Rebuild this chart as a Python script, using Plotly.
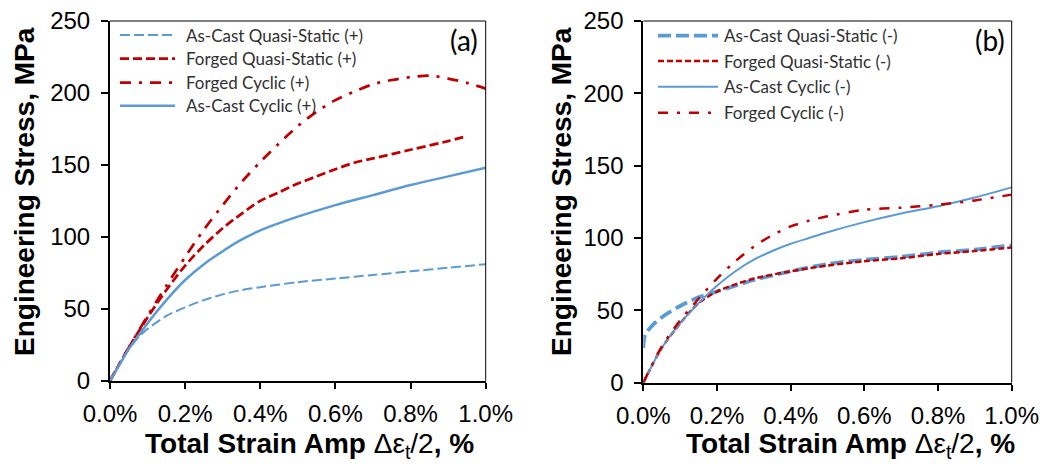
import plotly.graph_objects as go

# ---- data: strain amplitude (%) vs engineering stress (MPa) ----
# (a) tension (+)
ac_qs_pos_x = [0, 0.025, 0.05, 0.075, 0.1, 0.15, 0.2, 0.25, 0.3, 0.35, 0.4, 0.5, 0.6, 0.7, 0.8, 0.9, 1.0]
ac_qs_pos_y = [0, 12, 22, 30, 36, 45, 51, 56, 60, 63, 65, 68.5, 71, 73.5, 76, 78.5, 81]

fg_qs_pos_x = [0, 0.05, 0.1, 0.15, 0.2, 0.25, 0.3, 0.35, 0.4, 0.45, 0.5, 0.55, 0.6, 0.65, 0.7, 0.8, 0.9, 0.95]
fg_qs_pos_y = [0, 23, 44, 63, 80, 94, 106, 116, 125, 131, 137, 142, 147, 151.5, 154.5, 160.5, 166.5, 170]

fg_cy_pos_x = [0, 0.05, 0.1, 0.15, 0.2, 0.25, 0.3, 0.35, 0.4, 0.45, 0.5, 0.55, 0.6, 0.65, 0.7,
               0.75, 0.8, 0.85, 0.9, 0.95, 1.0]
fg_cy_pos_y = [0, 23, 45, 66, 86, 105, 122, 138, 152, 165, 177, 187, 195, 201, 206,
               209, 211, 212, 210, 207, 203]

ac_cy_pos_x = [0, 0.025, 0.05, 0.075, 0.1, 0.15, 0.2, 0.25, 0.3, 0.35, 0.4, 0.45, 0.5, 0.6, 0.7, 0.8, 0.9, 1.0]
ac_cy_pos_y = [0, 11, 22, 31, 40, 56, 70, 81, 90, 98, 104.5, 109.5, 114, 122, 129, 136, 142, 148]

# (b) compression (-)
ac_qs_neg_x = [0, 0.005, 0.03, 0.06, 0.1, 0.15, 0.2, 0.25, 0.3, 0.4, 0.5, 0.6, 0.7, 0.8, 0.9, 1.0]
ac_qs_neg_y = [24, 33, 41, 47, 53, 59, 63, 67, 71, 77, 82, 85, 87, 90, 92, 95]

fg_qs_neg_x = [0, 0.05, 0.1, 0.15, 0.2, 0.25, 0.3, 0.4, 0.5, 0.6, 0.7, 0.8, 0.9, 1.0]
fg_qs_neg_y = [0, 24, 41, 55, 63, 68, 72, 77, 81, 84, 86, 89, 91, 93.5]

ac_cy_neg_x = [0, 0.05, 0.1, 0.15, 0.2, 0.25, 0.3, 0.35, 0.4, 0.45, 0.5, 0.6, 0.7, 0.8, 0.9, 1.0]
ac_cy_neg_y = [0, 24, 41, 55, 67, 77, 85, 91, 96, 100, 104, 111, 117, 122, 128, 135]

fg_cy_neg_x = [0, 0.05, 0.1, 0.15, 0.2, 0.25, 0.3, 0.35, 0.4, 0.45, 0.5, 0.6, 0.7, 0.8, 0.9, 1.0]
fg_cy_neg_y = [0, 25, 43, 58, 72, 84, 94, 102, 108, 112, 115, 119.5, 121, 123, 126, 130]

x_tick_vals = [0, 0.2, 0.4, 0.6, 0.8, 1.0]
x_tick_text = ["0.0%", "0.2%", "0.4%", "0.6%", "0.8%", "1.0%"]
y_tick_vals = [0, 50, 100, 150, 200, 250]

names_a = ["As-Cast Quasi-Static (+)", "Forged Quasi-Static (+)", "Forged Cyclic (+)", "As-Cast Cyclic (+)"]
names_b = ["As-Cast Quasi-Static (-)", "Forged Quasi-Static (-)", "As-Cast Cyclic (-)", "Forged Cyclic (-)"]

BLUE = "#5B9BD5"
RED = "#C00000"

W, H = 1047, 464


def px(x):
    return x / W


def py(y):
    return 1 - y / H


# line styles for each series (colour, width, dash)
styles_a = [
    (BLUE, 2, "10px,4px"),
    (RED, 2.75, "9px,4px"),
    (RED, 2.75, "11px,8px,3px,8px"),
    (BLUE, 2.5, "solid"),
]
styles_b = [
    (BLUE, 3.75, "13px,5px"),
    (RED, 2.5, "6px,3px"),
    (BLUE, 2, "solid"),
    (RED, 2.5, "10px,9px,3px,9px"),
]

series_a = [(ac_qs_pos_x, ac_qs_pos_y), (fg_qs_pos_x, fg_qs_pos_y),
            (fg_cy_pos_x, fg_cy_pos_y), (ac_cy_pos_x, ac_cy_pos_y)]
series_b = [(ac_qs_neg_x, ac_qs_neg_y), (fg_qs_neg_x, fg_qs_neg_y),
            (ac_cy_neg_x, ac_cy_neg_y), (fg_cy_neg_x, fg_cy_neg_y)]

fig = go.Figure()

for (xs, ys), name, (c, w, d) in zip(series_a, names_a, styles_a):
    fig.add_trace(go.Scatter(x=xs, y=ys, name=name, mode="lines", xaxis="x", yaxis="y",
                             line=dict(color=c, width=w, dash=d, shape="spline", smoothing=0.8),
                             showlegend=False))
for (xs, ys), name, (c, w, d) in zip(series_b, names_b, styles_b):
    fig.add_trace(go.Scatter(x=xs, y=ys, name=name, mode="lines", xaxis="x2", yaxis="y2",
                             line=dict(color=c, width=w, dash=d, shape="spline", smoothing=0.8),
                             showlegend=False))

# plot-area geometry in pixels
A = dict(l=110, r=485.7, t=21, b=380.7)
B = dict(l=643.3, r=1011.7, t=21, b=382.7)

tick_font = dict(family="Liberation Sans, Arial, sans-serif", size=24, color="#000000")
common_x = dict(range=[0, 1.0], tickvals=x_tick_vals, ticktext=x_tick_text, showgrid=False,
                zeroline=False, showline=True, linecolor="black", linewidth=2,
                ticks="outside", ticklen=6, tickwidth=2, tickcolor="black",
                tickfont=tick_font, ticklabelstandoff=4, fixedrange=True, automargin=False)
common_y = dict(range=[0, 250], tickvals=y_tick_vals, showgrid=False,
                zeroline=False, showline=True, linecolor="black", linewidth=2,
                ticks="outside", ticklen=7, tickwidth=2, tickcolor="black",
                tickfont=tick_font, ticklabelstandoff=6, fixedrange=True, automargin=False)

fig.update_layout(
    template="none",
    width=W, height=H,
    margin=dict(l=0, r=0, t=0, b=0, autoexpand=False),
    paper_bgcolor="white", plot_bgcolor="white",
    xaxis=dict(domain=[px(A["l"]), px(A["r"])], anchor="y", **common_x),
    yaxis=dict(domain=[py(A["b"]), py(A["t"])], anchor="x", **common_y),
    xaxis2=dict(domain=[px(B["l"]), px(B["r"])], anchor="y2", **common_x),
    yaxis2=dict(domain=[py(B["b"]), py(B["t"])], anchor="x2", **common_y),
)

shapes = []
annotations = []

# thin top and right frame lines
for P in (A, B):
    shapes.append(dict(type="line", xref="paper", yref="paper", x0=px(P["l"]), x1=px(P["r"]),
                       y0=py(P["t"]), y1=py(P["t"]), line=dict(color="black", width=1)))
    shapes.append(dict(type="line", xref="paper", yref="paper", x0=px(P["r"]), x1=px(P["r"]),
                       y0=py(P["t"]), y1=py(P["b"]), line=dict(color="black", width=1)))

legend_font = dict(family="Lato, Carlito, sans-serif", size=17, color="#303030")


def add_legend(names, styles, x0, x1, xt, rows):
    for name, (c, w, d), yr in zip(names, styles, rows):
        shapes.append(dict(type="line", xref="paper", yref="paper", x0=px(x0), x1=px(x1),
                           y0=py(yr), y1=py(yr), line=dict(color=c, width=w, dash=d)))
        annotations.append(dict(text=name, xref="paper", yref="paper", x=px(xt), y=py(yr),
                                xanchor="left", yanchor="middle", showarrow=False,
                                font=legend_font))


add_legend(names_a, styles_a, 120, 175, 184, [35, 58.5, 82.5, 105.7])
add_legend(names_b, styles_b, 658, 718, 722, [35.7, 61, 86.7, 112.7])

panel_font = dict(family="Lato, Carlito, sans-serif", size=28, color="#000000")
annotations.append(dict(text="(a)", xref="paper", yref="paper", x=px(464), y=py(40),
                        xanchor="center", yanchor="middle", showarrow=False, font=panel_font))
annotations.append(dict(text="(b)", xref="paper", yref="paper", x=px(990), y=py(40),
                        xanchor="center", yanchor="middle", showarrow=False, font=panel_font))

# axis titles
title_font = dict(family="Liberation Sans, Arial, sans-serif", size=28, color="#000000")
x_title = "<b>Total Strain Amp </b>Δε<sub>t</sub>/2<b>, %</b>"
y_title = "<b>Engineering Stress, MPa</b>"
for cx in (309, 850):
    annotations.append(dict(text=x_title, xref="paper", yref="paper", x=px(cx), y=py(445),
                            xanchor="center", yanchor="middle", showarrow=False, font=title_font))
for cx, cy in ((25, 192), (562, 192)):
    annotations.append(dict(text=y_title, xref="paper", yref="paper", x=px(cx), y=py(cy),
                            xanchor="center", yanchor="middle", showarrow=False,
                            textangle=-90, font=title_font))

fig.update_layout(shapes=shapes, annotations=annotations)

fig.write_html("out.html")
